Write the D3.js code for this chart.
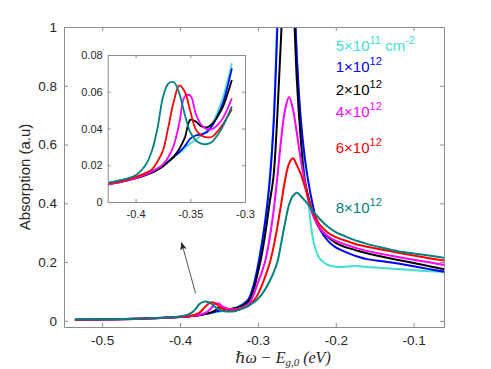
<!DOCTYPE html>
<html>
<head>
<meta charset="utf-8">
<script src="https://cdn.jsdelivr.net/npm/d3@7"></script>
<style>
  body { margin: 0; background: #fff; }
  svg text { font-family: "Liberation Sans", Arial, Helvetica, sans-serif; }
</style>
</head>
<body>
<svg id="chart" width="491" height="369"></svg>
<script>
// photon energy relative to the gap (eV)
var energy = [-0.535,-0.50,-0.47,-0.45,-0.425,-0.41,-0.40,-0.39,-0.385,-0.38,-0.375,-0.37,-0.365,-0.36,-0.355,-0.35,-0.345,-0.34,-0.335,-0.33,-0.325,-0.32,-0.312,-0.305,-0.30,-0.295,-0.29,-0.285,-0.28,-0.275,-0.27,-0.265,-0.26,-0.255,-0.25,-0.245,-0.24,-0.235,-0.23,-0.225,-0.22,-0.21,-0.20,-0.19,-0.18,-0.17,-0.16,-0.14,-0.12,-0.10,-0.08,-0.06];

// absorption for each carrier density
var abs5e11 = [0.004,0.005,0.006,0.0075,
  0.0105,0.0122,0.0138,0.0158,0.017,0.0185,0.0202,0.0225,0.025,0.0268,0.0293,0.032,0.0338,0.0363,0.039,0.0425,0.049,0.057,0.0755,
  0.13,0.19,0.265,0.355,0.48,0.67,1.05,1.5,1.8,1.7,1.3,0.9,
  0.66,0.50,0.40,0.29,0.235,0.21,0.19,0.184,0.183,0.186,0.186,0.183,0.18,0.176,0.172,0.169,0.166];
var abs1e12 = [0.004,0.005,0.006,0.0075,
  0.0100,0.0118,0.0133,0.0153,0.0165,0.018,0.0197,0.022,0.0245,0.0272,0.0305,0.0345,0.0362,0.0368,0.038,0.0415,0.047,0.054,0.0727,
  0.125,0.185,0.26,0.35,0.47,0.66,1.0,1.4,1.7,1.6,1.25,0.9,
  0.69,0.56,0.47,0.40,0.345,0.31,0.272,0.25,0.237,0.226,0.217,0.21,0.203,0.195,0.186,0.176,0.167];
var abs2e12 = [0.0035,0.0045,0.0055,0.007,
  0.0095,0.0113,0.0128,0.0148,0.016,0.0175,0.0193,0.0218,0.0248,0.029,0.035,0.0447,0.0438,0.0412,0.0406,0.0425,0.0465,0.052,0.0664,
  0.11,0.165,0.225,0.305,0.40,0.49,0.70,0.98,1.3,1.45,1.15,0.82,
  0.62,0.48,0.42,0.37,0.335,0.312,0.285,0.265,0.253,0.245,0.237,0.23,0.218,0.207,0.197,0.186,0.175];
var abs4e12 = [0.0035,0.0045,0.0055,0.007,
  0.0095,0.0113,0.0130,0.0152,0.0165,0.0182,0.0205,0.0245,0.031,0.043,0.0575,0.058,0.048,0.042,0.0397,0.0397,0.042,0.0458,0.0564,
  0.092,0.13,0.165,0.21,0.28,0.37,0.49,0.62,0.72,0.762,0.72,0.64,
  0.55,0.475,0.41,0.365,0.335,0.312,0.288,0.272,0.262,0.253,0.245,0.238,0.227,0.217,0.208,0.199,0.19];
var abs6e12 = [0.004,0.005,0.006,0.0075,
  0.010,0.0118,0.0135,0.016,0.0178,0.022,0.028,0.041,0.055,0.0635,0.060,0.0495,0.0395,0.0362,0.0352,0.0355,0.0385,0.0425,0.0505,
  0.07,0.09,0.12,0.155,0.195,0.25,0.32,0.40,0.48,0.535,0.553,0.53,
  0.50,0.46,0.415,0.375,0.347,0.325,0.30,0.285,0.275,0.266,0.258,0.252,0.242,0.232,0.222,0.213,0.205];
var abs8e12 = [0.0045,0.0055,0.0065,0.008,
  0.0105,0.0125,0.0145,0.021,0.028,0.040,0.057,0.0645,0.0652,0.059,0.0475,0.038,0.0335,0.0318,0.0315,0.0328,0.0365,0.0415,0.052,
  0.063,0.075,0.09,0.11,0.135,0.163,0.20,0.265,0.335,0.395,0.425,0.436,
  0.425,0.41,0.395,0.375,0.36,0.345,0.32,0.302,0.29,0.279,0.27,0.262,0.249,0.237,0.229,0.222,0.214];

var seriesValues = [abs5e11, abs1e12, abs2e12, abs4e12, abs6e12, abs8e12];
var seriesColors = ["#40e0d0", "#0000ff", "#000000", "#ff00ff", "#ff0000", "#008080"];
var labelMant = ["5", "1", "2", "4", "6", "8"];
var labelExp = ["11", "12", "12", "12", "12", "12"];
var labelY = [0.92, 0.847, 0.77, 0.692, 0.57, 0.368];   // label heights in data units
var labelX = -0.2;

var xTicks = [-0.5, -0.4, -0.3, -0.2, -0.1];
var yTicks = [0, 0.2, 0.4, 0.6, 0.8, 1];
var insetXTicks = [-0.4, -0.35, -0.3];
var insetYTicks = [0, 0.02, 0.04, 0.06, 0.08];

// arrow from the exciton bump up to the inset (data units)
var arrowFrom = [-0.38, 0.0935];
var arrowTo = [-0.398, 0.266];

var axisGray = "#8c8c8c";
var textGray = "#262626";

var svg = d3.select("#chart");

var main = {left: 64, right: 444, top: 27, bottom: 327};
var inset = {left: 107.7, right: 245, top: 55, bottom: 202};

var x = d3.scaleLinear().domain([-0.549, -0.061]).range([main.left, main.right]);
var y = d3.scaleLinear().domain([-0.021, 1]).range([main.bottom, main.top]);

var xi = d3.scaleLinear().domain([-0.4255, -0.3]).range([inset.left, inset.right]);
var yi = d3.scaleLinear().domain([0, 0.08]).range([inset.bottom, inset.top]);

function fmt(d) { return String(+d.toFixed(2)); }

function styleAxis(g, size) {
  g.attr("font-family", null).attr("font-size", null);
  g.select(".domain").attr("stroke", axisGray);
  g.selectAll(".tick line").attr("stroke", axisGray);
  g.selectAll(".tick text").attr("fill", textGray).style("font-size", size + "px");
}

function drawFrame(box, sx, sy, xt, yt, tick, size, padX, padY) {
  var gb = svg.append("g").attr("transform", "translate(0," + box.bottom + ")")
    .call(d3.axisBottom(sx).tickValues(xt).tickSize(-tick).tickSizeOuter(0).tickPadding(padX).tickFormat(fmt));
  styleAxis(gb, size);
  var gl = svg.append("g").attr("transform", "translate(" + box.left + ",0)")
    .call(d3.axisLeft(sy).tickValues(yt).tickSize(-tick).tickSizeOuter(0).tickPadding(padY).tickFormat(fmt));
  styleAxis(gl, size);
  var gt = svg.append("g").attr("transform", "translate(0," + box.top + ")")
    .call(d3.axisTop(sx).tickValues(xt).tickSize(-tick).tickSizeOuter(0).tickFormat(""));
  styleAxis(gt, size);
  var gr = svg.append("g").attr("transform", "translate(" + box.right + ",0)")
    .call(d3.axisRight(sy).tickValues(yt).tickSize(-tick).tickSizeOuter(0).tickFormat(""));
  styleAxis(gr, size);
}

// clip paths
var defs = svg.append("defs");
defs.append("clipPath").attr("id", "clipMain").append("rect")
  .attr("x", main.left).attr("y", main.top)
  .attr("width", main.right - main.left).attr("height", main.bottom - main.top);
defs.append("clipPath").attr("id", "clipInset").append("rect")
  .attr("x", inset.left).attr("y", inset.top)
  .attr("width", inset.right - inset.left).attr("height", inset.bottom - inset.top);
defs.append("marker").attr("id", "head")
  .attr("viewBox", "0 0 10 10").attr("refX", 9).attr("refY", 5)
  .attr("markerWidth", 10).attr("markerHeight", 8).attr("markerUnits", "userSpaceOnUse")
  .attr("orient", "auto")
  .append("path").attr("d", "M0,1 L10,5 L0,9 L2,5 Z").attr("fill", textGray);

// main curves
var mainLine = d3.line()
  .x(function(d) { return x(d[0]); })
  .y(function(d) { return y(d[1]); })
  .curve(d3.curveCatmullRom.alpha(0.5));

var gMain = svg.append("g").attr("clip-path", "url(#clipMain)");
seriesValues.forEach(function(vals, i) {
  var pts = energy.map(function(e, k) { return [e, vals[k]]; });
  gMain.append("path")
    .attr("d", mainLine(pts))
    .attr("fill", "none")
    .attr("stroke", seriesColors[i])
    .attr("stroke-width", 2);
});

drawFrame(main, x, y, xTicks, yTicks, 4, 13.5, 8, 7);

// density labels
seriesValues.forEach(function(vals, i) {
  var t = svg.append("text")
    .attr("x", x(labelX)).attr("y", y(labelY[i]))
    .attr("fill", seriesColors[i])
    .style("font-size", "15px");
  t.append("tspan").text(labelMant[i] + "\u00d710");
  t.append("tspan").attr("dy", -7).style("font-size", "11px").text(labelExp[i]);
  if (i === 0) {
    t.append("tspan").attr("dy", 7).style("font-size", "15px").text(" cm");
    t.append("tspan").attr("dy", -7).style("font-size", "11px").text("-2");
  }
});

// axis titles
svg.append("text")
  .attr("transform", "translate(24," + ((main.top + main.bottom) / 2) + ") rotate(-90)")
  .attr("text-anchor", "middle")
  .attr("dominant-baseline", "central")
  .attr("fill", textGray)
  .style("font-size", "15px")
  .text("Absorption (a.u)");

var xt = svg.append("text")
  .attr("x", 283).attr("y", 363)
  .attr("text-anchor", "middle")
  .attr("fill", textGray)
  .style("font-family", "'Liberation Serif', 'DejaVu Serif', serif")
  .style("font-style", "italic")
  .style("font-size", "16px");
xt.append("tspan").text("\u210f\u03c9 \u2212 E");
xt.append("tspan").attr("dy", 3).style("font-size", "11px").text("g,0");
xt.append("tspan").attr("dy", -3).text(" (eV)");

// arrow
svg.append("line")
  .attr("x1", x(arrowFrom[0])).attr("y1", y(arrowFrom[1]))
  .attr("x2", x(arrowTo[0])).attr("y2", y(arrowTo[1]))
  .attr("stroke", textGray).attr("stroke-width", 0.8)
  .attr("marker-end", "url(#head)");

// inset
svg.append("rect")
  .attr("x", inset.left).attr("y", inset.top)
  .attr("width", inset.right - inset.left).attr("height", inset.bottom - inset.top)
  .attr("fill", "#fff");

var insetLine = d3.line()
  .x(function(d) { return xi(d[0]); })
  .y(function(d) { return yi(d[1]); })
  .curve(d3.curveCatmullRom.alpha(0.5));

var gInset = svg.append("g").attr("clip-path", "url(#clipInset)");
seriesValues.forEach(function(vals, i) {
  var pts = energy.map(function(e, k) { return [e, vals[k]]; })
    .filter(function(p) { return p[0] >= -0.426 && p[0] <= -0.312; });
  gInset.append("path")
    .attr("d", insetLine(pts))
    .attr("fill", "none")
    .attr("stroke", seriesColors[i])
    .attr("stroke-width", 1.8);
});

drawFrame(inset, xi, yi, insetXTicks, insetYTicks, 3, 11, 8, 5);
</script>
</body>
</html>
